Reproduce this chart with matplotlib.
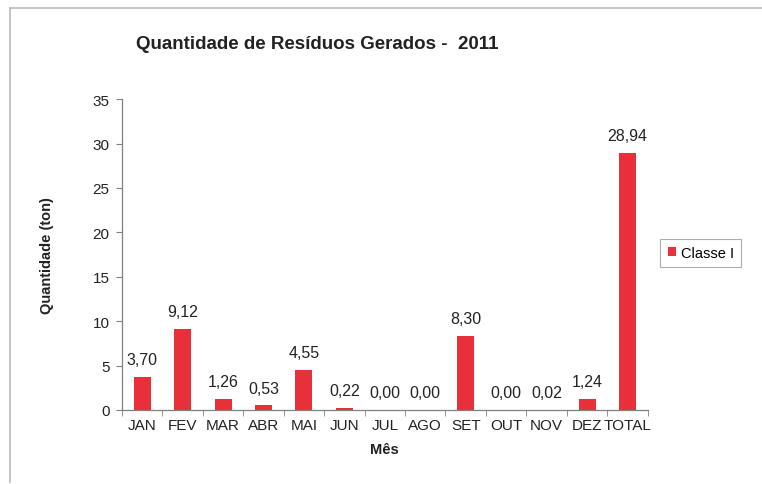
import matplotlib.pyplot as plt
from matplotlib.lines import Line2D

plt.rcParams['font.family'] = ['Liberation Sans', 'DejaVu Sans']

meses = ['JAN', 'FEV', 'MAR', 'ABR', 'MAI', 'JUN', 'JUL', 'AGO', 'SET',
         'OUT', 'NOV', 'DEZ', 'TOTAL']
classe1 = [3.70, 9.12, 1.26, 0.53, 4.55, 0.22, 0.00, 0.00, 8.30,
           0.00, 0.02, 1.24, 28.94]
yticks = [0, 5, 10, 15, 20, 25, 30, 35]

cor = '#e8303a'
cinza = '#808080'

fig = plt.figure(figsize=(7.62, 4.85), dpi=100)
ax = fig.add_axes([0.160, 0.1526, 0.690, 0.641])

x = list(range(len(meses)))
bars = ax.bar(x, classe1, width=0.42, color=cor, label='Classe I', zorder=2)

for xi, v in zip(x, classe1):
    ax.text(xi, v + 1.1, f'{v:.2f}'.replace('.', ','), ha='center', va='bottom',
            fontsize=11.5, color='#222222')

ax.set_xlim(-0.5, len(meses) - 0.5)
ax.set_ylim(0, 35)
ax.set_yticks(yticks)
ax.set_yticklabels([str(t) for t in yticks], fontsize=11, color='#222222')
ax.set_xticks(x)
ax.set_xticklabels(meses, fontsize=11, color='#222222')
ax.tick_params(axis='x', length=0, pad=6)
ax.tick_params(axis='y', length=4, color=cinza, pad=5)
# marcas entre categorias (estilo Excel)
ax.set_xticks([i - 0.5 for i in range(len(meses) + 1)], minor=True)
ax.tick_params(axis='x', which='minor', length=4, color=cinza)

for s in ['top', 'right']:
    ax.spines[s].set_visible(False)
for s in ['left', 'bottom']:
    ax.spines[s].set_color(cinza)
    ax.spines[s].set_linewidth(0.9)

ax.set_ylabel('Quantidade (ton)', fontsize=10.5, fontweight='bold', labelpad=28,
              color='#222222')
ax.set_xlabel('Mês', fontsize=10.5, fontweight='bold', labelpad=7, color='#222222')

fig.text(0.416, 0.908, 'Quantidade de Resíduos Gerados -  2011', ha='center',
         va='center', fontsize=13.5, fontweight='bold', color='#222222')

leg = ax.legend(loc='center left', bbox_to_anchor=(1.01, 0.505), fontsize=10.5,
                frameon=True, fancybox=False, handlelength=0.6, handleheight=0.6,
                handletextpad=0.3, borderpad=0.5)
leg.get_frame().set_edgecolor('#999999')
leg.get_frame().set_linewidth(0.8)

# moldura do gráfico
fig.add_artist(Line2D([0.013, 0.013], [0.005, 0.982], color='#bbbbbb', lw=1.2,
                      transform=fig.transFigure))
fig.add_artist(Line2D([0.013, 1.0], [0.982, 0.982], color='#bbbbbb', lw=1.2,
                      transform=fig.transFigure))

fig.savefig('out.png', dpi=100)
